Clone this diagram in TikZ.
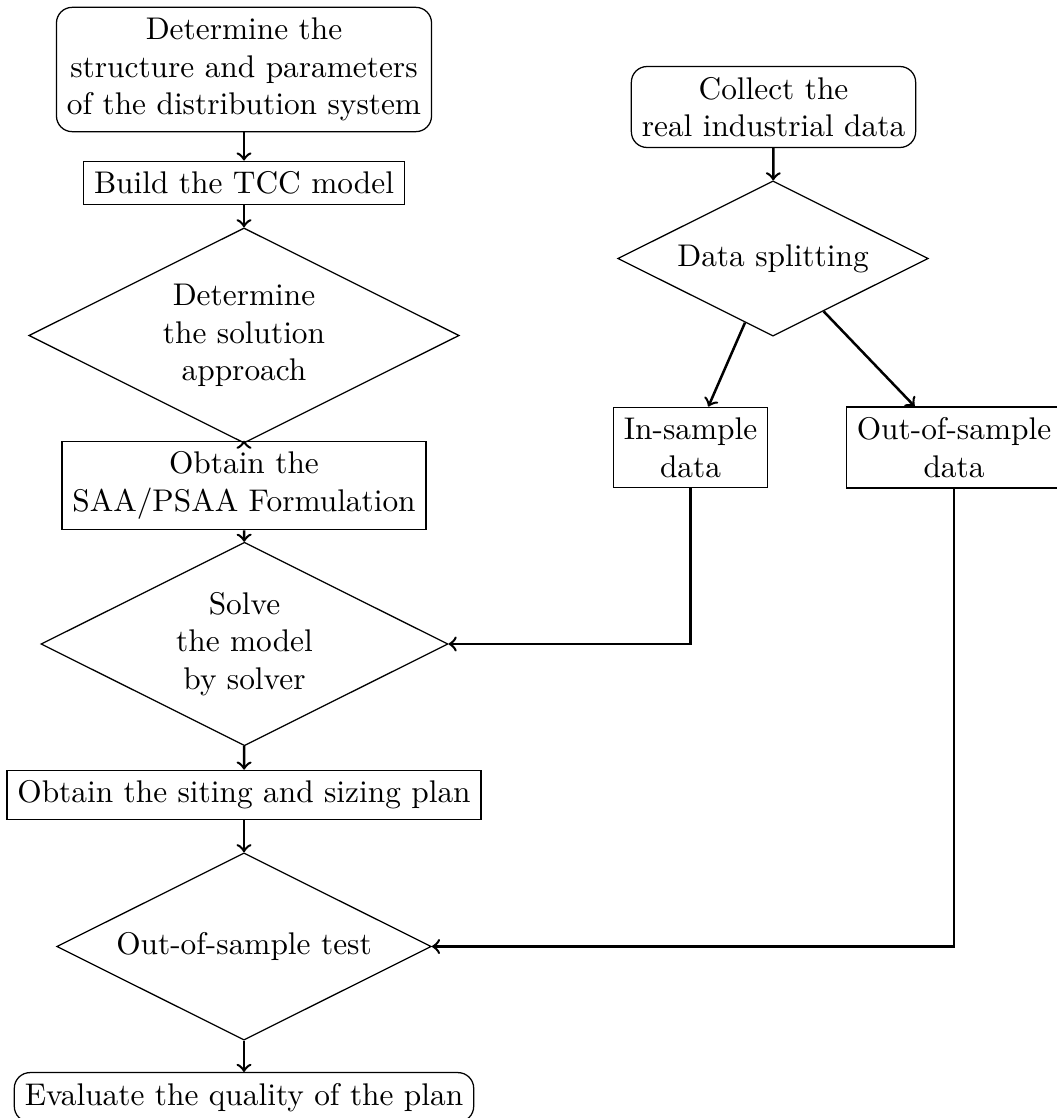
\documentclass[tikz,border=0pt]{standalone}
\usetikzlibrary{shapes.geometric}
\begin{document}
\begin{tikzpicture}[x=0.319pt,y=-0.319pt,
  stepbox/.style={draw, rectangle, align=center, line width=0.4pt},
  roundbox/.style={draw, rectangle, rounded corners=5pt, align=center, line width=0.4pt},
  decision/.style={draw, diamond, aspect=2, align=center, line width=0.4pt},
  conn/.style={->, thick}]
\useasboundingbox (0,0) rectangle (1056,1118);
\node[roundbox] (det) at (244,69.5) {Determine the\\structure and parameters\\of the distribution system};
\node[stepbox] (build) at (244,183) {Build the TCC model};
\node[decision] (approach) at (244,335.5) {Determine\\the solution\\approach};
\node[stepbox] (saa) at (244,485.5) {Obtain the\\SAA/PSAA Formulation};
\node[decision] (solve) at (244.5,644) {Solve\\the model\\by solver};
\node[stepbox] (siting) at (244,795) {Obtain the siting and sizing plan};
\node[decision] (test) at (244,946.5) {Out-of-sample test};
\node[roundbox] (eval) at (244,1097.3) {Evaluate the quality of the plan};
\node[roundbox] (collect) at (773.5,107) {Collect the\\real industrial data};
\node[decision] (split) at (773,258.5) {Data splitting};
\node[stepbox] (in) at (690.5,447.5) {In-sample\\data};
\node[stepbox] (out) at (954,447.5) {Out-of-sample\\data};
\draw[conn] (det) -- (build);
\draw[conn] (build) -- (approach);
\draw[conn] (approach) -- (saa);
\draw[conn] (saa) -- (solve);
\draw[conn] (solve) -- (siting);
\draw[conn] (siting) -- (test);
\draw[conn] (test) -- (eval);
\draw[conn] (collect) -- (split);
\draw[conn] (split) -- (in);
\draw[conn] (split) -- (out);
\draw[conn] (in.south) |- (solve.east);
\draw[conn] (out.south) |- (test.east);
\end{tikzpicture}
\end{document}
